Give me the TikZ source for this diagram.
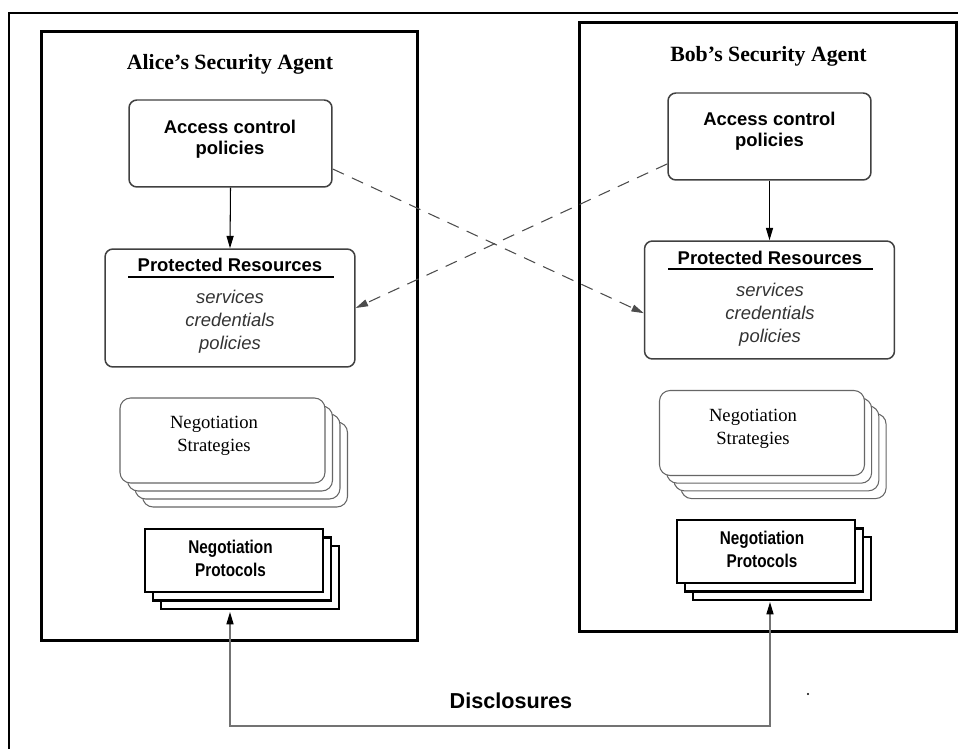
\documentclass[tikz,border=0pt]{standalone}
\usepackage{fontspec}
\setmainfont{Liberation Serif}
\setsansfont{Liberation Sans}
\newfontfamily\narrowsf[FakeStretch=0.83]{Liberation Sans}
\usetikzlibrary{arrows.meta}
\tikzset{
  agent/.style={draw, line width=1.7pt, minimum width=7.54cm, minimum height=12.2cm},
  title/.style={font=\bfseries\fontsize{12.4}{15}\selectfont, anchor=base, inner sep=0pt},
  policybox/.style={draw=black!75, line width=0.85pt, rounded corners=4.5pt, minimum width=4.06cm, minimum height=1.74cm},
  resbox/.style={policybox, minimum width=5.0cm, minimum height=2.36cm},
  boxtext/.style={font=\sffamily\bfseries\fontsize{10.5}{12.5}\selectfont, align=center, anchor=base, inner sep=0pt},
  itemtext/.style={font=\sffamily\itshape\fontsize{10.5}{13.3}\selectfont, text=black!80, align=center, anchor=base, inner sep=0pt},
  stratbox/.style={draw=black!60, fill=white, line width=0.6pt, rounded corners=6pt, minimum width=4.1cm, minimum height=1.7cm},
  stratext/.style={font=\fontsize{10.6}{13.6}\selectfont, align=center, anchor=base, inner sep=0pt},
  protbox/.style={draw, fill=white, line width=1.5pt, minimum width=3.56cm, minimum height=1.26cm},
  protext/.style={font=\narrowsf\bfseries\fontsize{10.5}{13.6}\selectfont, align=center, anchor=base, inner sep=0pt},
  link/.style={-{Triangle[length=7pt,width=4pt]}, line width=0.6pt},
  crosslink/.style={link, draw=black!70, dash pattern=on 7pt off 5pt},
  disclink/.style={{Triangle[length=7pt,width=4pt,color=black]}-{Triangle[length=7pt,width=4pt,color=black]}, draw=black!55, line width=0.7pt}
}
\begin{document}
\begin{tikzpicture}[x=0.02cm, y=-0.02cm]
\useasboundingbox (0,0) rectangle (958,749);
% outer frame
\draw[line width=1.1pt] (9,749) -- (9,13) -- (958,13);

% Alice
\node[agent] (alice) at (229.5,336) {};
\node[title] (alicetitle) at (230,70) {Alice's Security Agent};
\node[policybox] (aliceacp) at (230.5,143.5) {};
\node[boxtext] (aliceacptext) at (230,155) {Access control\\policies};
\node[resbox] (alicepr) at (230,308) {};
\node[boxtext] (aliceprhead) at (230,272) {Protected Resources};
\draw[line width=0.85pt] (128,277) -- (334,277);
\node[itemtext] (aliceitems) at (230,350) {services\\credentials\\policies};
\foreach \k in {3,2,1}
  \node[stratbox] (alicens\k) at (222.5+\k*7.5,440.5+\k*8) {};
\node[stratbox] (alicens) at (222.5,440.5) {};
\node[stratext] (alicenstext) at (214,452) {Negotiation\\Strategies};
\foreach \k in {2,1}
  \node[protbox] (alicenp\k) at (234+\k*8,560.5+\k*8.5) {};
\node[protbox] (alicenp) at (234,560.5) {};
\node[protext] (alicenptext) at (230.5,577) {Negotiation\\Protocols};

% Bob
\node[agent] (bob) at (768,327) {};
\node[title] (bobtitle) at (768.5,62) {Bob's Security Agent};
\node[policybox] (bobacp) at (769.5,136.5) {};
\node[boxtext] (bobacptext) at (769.5,147) {Access control\\policies};
\node[resbox] (bobpr) at (769.5,300) {};
\node[boxtext] (bobprhead) at (770,265) {Protected Resources};
\draw[line width=0.85pt] (668,269) -- (873,269);
\node[itemtext] (bobitems) at (770,343) {services\\credentials\\policies};
\foreach \k in {3,2,1}
  \node[stratbox] (bobns\k) at (762+\k*7.2,433+\k*7.7) {};
\node[stratbox] (bobns) at (762,433) {};
\node[stratext] (bobnstext) at (753,445) {Negotiation\\Strategies};
\foreach \k in {2,1}
  \node[protbox] (bobnp\k) at (766+\k*8,551.5+\k*8.5) {};
\node[protbox] (bobnp) at (766,551.5) {};
\node[protext] (bobnptext) at (762,568) {Negotiation\\Protocols};

% policies point at the other side's resources
\draw[link] (aliceacp.south) -- (alicepr.north);
\draw[link] (bobacp.south) -- (bobpr.north);
\draw[crosslink] (aliceacp.-14) -- (bobpr.186);
\draw[crosslink] (bobacp.195) -- (alicepr.east);

% disclosures between the protocols
\coordinate (aliceport) at (230,612);
\coordinate (bobport) at (770,602);
\coordinate (turn) at (230,726);
\draw[disclink] (aliceport) -- (turn) -| (bobport);
\node[font=\sffamily\bfseries\fontsize{12.3}{15}\selectfont, anchor=base] (disclosures) at (511,709) {Disclosures};
\fill (808,694) circle[radius=0.6pt];
\end{tikzpicture}
\end{document}
